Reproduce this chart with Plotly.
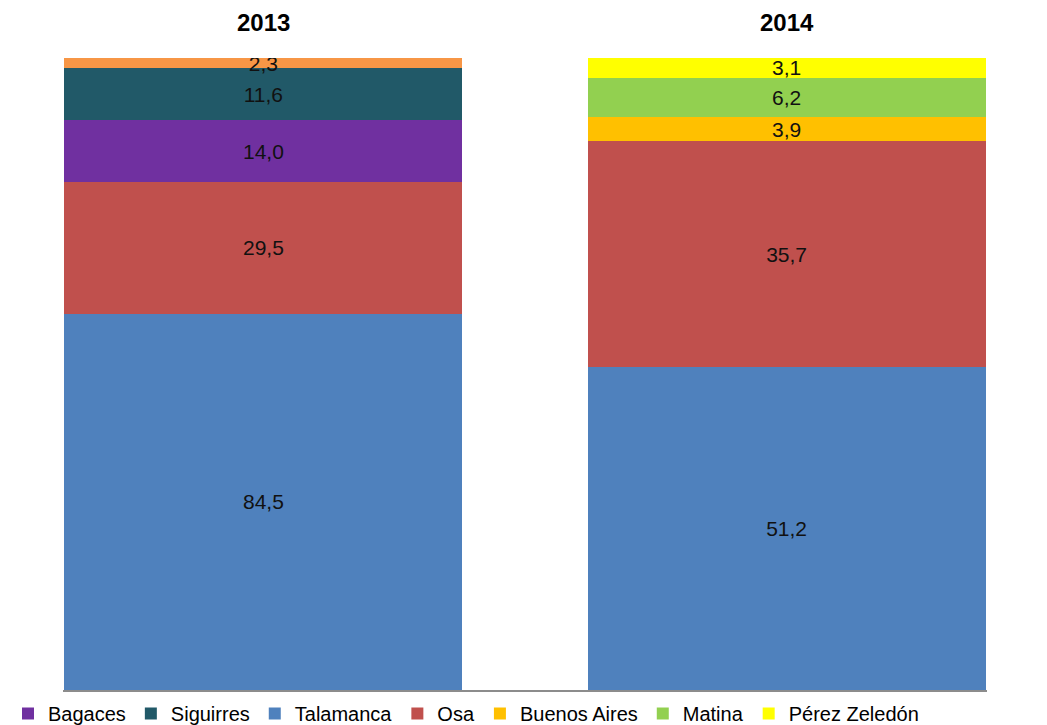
# ---------- LIBRARIES ---------- #
import plotly.graph_objects as go

# ---------- DATA ---------- #
years = ["2013", "2014"]

talamanca = [84.5, 51.2]
osa = [29.5, 35.7]
bagaces = [14.0, None]
siguirres = [11.6, None]
otro = [2.3, None]          # orange segment, not in the visible legend
buenos_aires = [None, 3.9]
matina = [None, 6.2]
perez_zeledon = [None, 3.1]

# (name, values, colour, legend rank, show in legend) -- stacking bottom -> top
series = [
    ("Talamanca", talamanca, "#4F81BD", 3, True),
    ("Osa", osa, "#C0504D", 4, True),
    ("Bagaces", bagaces, "#7030A0", 1, True),
    ("Siguirres", siguirres, "#215968", 2, True),
    ("Otro", otro, "#F79646", 8, False),
    ("Buenos Aires", buenos_aires, "#FFC000", 5, True),
    ("Matina", matina, "#92D050", 6, True),
    ("Pérez Zeledón", perez_zeledon, "#FFFF00", 7, True),
]

FONT = "Liberation Sans"

# ---------- MAIN ----------- #
fig = go.Figure()
for name, vals, color, rank, show in series:
    labels = [("" if v is None else f"{v:.1f}".replace(".", ",")) for v in vals]
    fig.add_trace(go.Bar(
        x=years,
        y=[0 if v is None else v for v in vals],
        name=name,
        marker=dict(color=color, line=dict(width=0)),
        text=labels,
        textposition="inside",
        insidetextanchor="middle",
        textangle=0,
        textfont=dict(color="#111111", size=21, family=FONT),
        legendrank=rank,
        showlegend=show,
    ))

# titles above each bar (category index on the x axis)
for i, yr in enumerate(years):
    fig.add_annotation(
        x=i, y=1.0, xref="x", yref="paper", yanchor="middle", yshift=36,
        text=f"<b>{yr}</b>", showarrow=False,
        font=dict(size=24, color="#000000", family=FONT),
    )

fig.update_layout(
    width=1039,
    height=725,
    barmode="stack",
    barnorm="percent",
    bargap=0.239,
    plot_bgcolor="white",
    paper_bgcolor="white",
    margin=dict(l=55, r=60, t=50, b=43, autoexpand=False),
    uniformtext=dict(minsize=21, mode="show"),
    font=dict(family=FONT, color="#000000"),
    legend=dict(
        orientation="h",
        xref="container", yref="container",
        x=-0.008, y=0.0, xanchor="left", yanchor="bottom",
        font=dict(size=20, family=FONT),
        bgcolor="rgba(0,0,0,0)",
        traceorder="normal",
        itemwidth=30,
    ),
    xaxis=dict(
        type="category",
        range=[-0.383, 1.383],
        showticklabels=False,
        ticks="",
        showgrid=False,
        showline=True,
        linecolor="#8C8C8C",
        linewidth=2,
        zeroline=False,
    ),
    yaxis=dict(
        range=[0, 100],
        visible=False,
        showgrid=False,
    ),
)

fig.write_html("out.html")
